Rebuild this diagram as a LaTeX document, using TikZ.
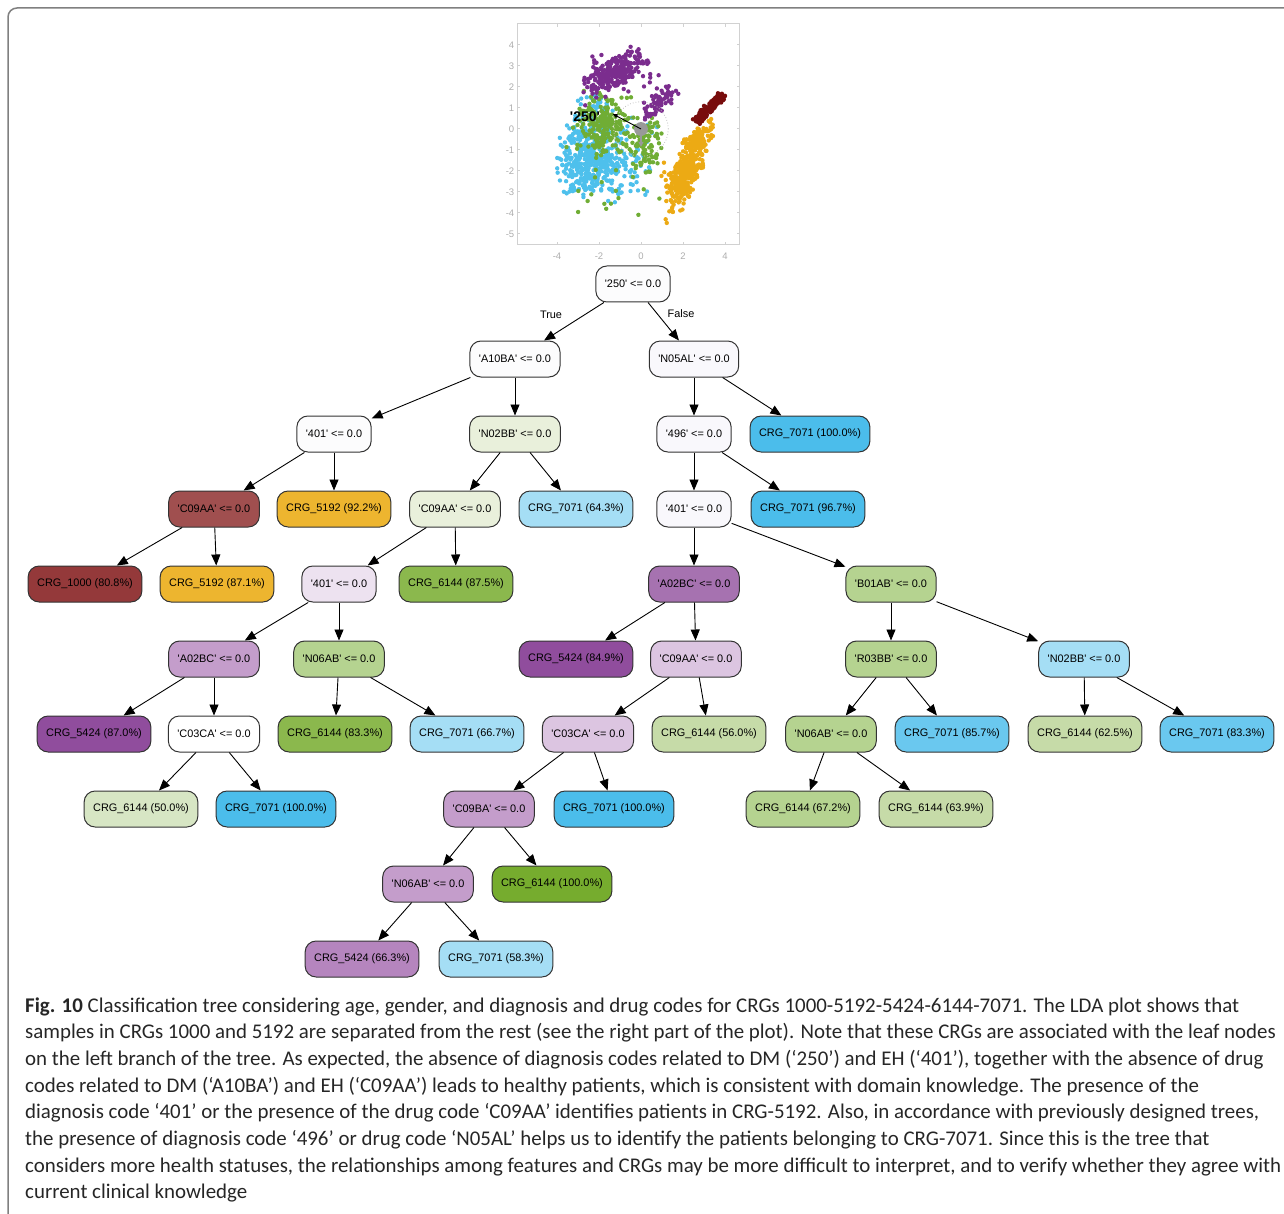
\documentclass[tikz,border=0pt]{standalone}
\usepackage{fontspec}
\setmainfont{Liberation Sans}
\newfontfamily\captionfont{Carlito}
\usetikzlibrary{arrows.meta}

%Farben Knoten
\definecolor{weiss}{HTML}{FCFCFD}
\definecolor{lavweiss}{HTML}{F9F8FC}
\definecolor{gruenblass}{HTML}{E9F0DB}
\definecolor{gruenblass2}{HTML}{D7E6C4}
\definecolor{gruenmittel}{HTML}{C6DBA8}
\definecolor{gruenhell}{HTML}{B5D390}
\definecolor{gruen}{HTML}{8BB84D}
\definecolor{gruendunkel}{HTML}{76AC2E}
\definecolor{blau}{HTML}{4BBDEB}
\definecolor{blaumittel}{HTML}{6AC8EF}
\definecolor{blauhell}{HTML}{A5DEF5}
\definecolor{rot}{HTML}{A04F4F}
\definecolor{rotdunkel}{HTML}{94393A}
\definecolor{ocker}{HTML}{EDB52F}
\definecolor{lila}{HTML}{A672B0}
\definecolor{lilahell}{HTML}{C49DCB}
\definecolor{lilamittel}{HTML}{B585BE}
\definecolor{lilazart}{HTML}{DCC5E1}
\definecolor{lilablass}{HTML}{EDE2F0}
\definecolor{violett}{HTML}{904D9D}
%Farben Punkte
\definecolor{pblau}{HTML}{4EC0EC}
\definecolor{pgruen}{HTML}{70AD35}
\definecolor{plila}{HTML}{7B2D8E}
\definecolor{pocker}{HTML}{ECAA14}
\definecolor{prot}{HTML}{780C0C}

\newcommand{\kode}[1]{\textquotesingle#1\textquotesingle}

\tikzset{
  knoten/.style={draw=black!80, line width=1pt, rounded corners=11pt,
    minimum height=36pt, inner xsep=9pt, inner ysep=0pt,
    font=\fontsize{10.9}{13}\selectfont},
  kante/.style={draw=black, line width=0.9pt, -{Triangle[length=11pt,width=9pt]}},
  achse/.style={draw=black!18, line width=1pt},
  skala/.style={text=black!32, font=\fontsize{9.5}{10}\selectfont, inner sep=1pt},
  zeile/.style={anchor=base west, inner sep=0pt, font=\captionfont\fontsize{20.9}{26}\selectfont, text=black!85},
}

\begin{document}
\begin{tikzpicture}[x=1pt,y=-1pt]
\useasboundingbox (0,0) rectangle (1284,1214);
\clip (0,0) rectangle (1284,1214);
%Rahmen
	\draw[draw=black!50, line width=1.5pt, rounded corners=9pt] (8,8) rectangle (1310,1240);
%LDA-Plot
\begin{scope}[shift={(641,129)}, x=21pt, y=21pt]
	\draw[achse] (-5.9,-5.52) rectangle (4.71,5.0);
	\foreach \y [count=\k] in {-5,...,4}{
		\draw[achse] (-5.9,\y) -- (-5.78,\y);
		\draw[achse] (4.71,\y) -- (4.59,\y);
		\node[skala, anchor=east] (ylab\k) at (-5.98,\y) {\y};}
	\foreach \x [count=\k] in {-4,-2,0,2,4}{
		\draw[achse] (\x,-5.52) -- (\x,-5.4);
		\draw[achse] (\x,5.0) -- (\x,4.88);
		\node[skala] (xlab\k) at (\x,-6.05) {\x};}
	\pgfmathsetseed{42}
%blau
	\foreach \i in {1,...,330}{
		\fill[pblau] ({-2.6+0.75*(rand+rand)},{-1.5+0.9*(rand+rand)}) circle (2.2pt);}
	\foreach \i in {1,...,180}{
		\fill[pblau] ({-1.4+1.2*(rand+rand)},{-1.6+1.1*(rand+rand)}) circle (2.2pt);}
	\foreach \i in {1,...,70}{
		\fill[pblau] ({-2.3+0.6*(rand+rand)},{0.7+0.6*(rand+rand)}) circle (2.2pt);}
%gruen
	\foreach \i in {1,...,240}{
		\fill[pgruen] ({-1.8+0.8*(rand+rand)},{0.2+0.85*(rand+rand)}) circle (2.2pt);}
	\foreach \i in {1,...,100}{
		\fill[pgruen] ({0.3+0.4*(rand+rand)},{-0.7+0.7*(rand+rand)}) circle (2.2pt);}
	\foreach \i in {1,...,25}{
		\fill[pgruen] ({-1+1.5*(rand+rand)},{-2.5+1*(rand+rand)}) circle (2.2pt);}
%lila
	\foreach \i in {1,...,230}{
		\pgfmathsetmacro{\pa}{0.85*(rand+rand)}
		\pgfmathsetmacro{\pb}{0.42*(rand+rand)}
		\fill[plila] ({-1.2+0.85*\pa-0.5*\pb},{2.75+0.5*\pa+0.85*\pb}) circle (2.2pt);}
	\foreach \i in {1,...,50}{
		\fill[plila] ({-0.9+1.1*(rand+rand)},{2.5+0.7*(rand+rand)}) circle (2.2pt);}
	\foreach \i in {1,...,70}{
		\pgfmathsetmacro{\pa}{0.6*(rand+rand)}
		\pgfmathsetmacro{\pb}{0.25*(rand+rand)}
		\fill[plila] ({0.9+0.8*\pa-0.6*\pb},{1.3+0.6*\pa+0.8*\pb}) circle (2.2pt);}
%ocker
	\foreach \i in {1,...,340}{
		\pgfmathsetmacro{\pa}{0.85*(rand+rand)}
		\pgfmathsetmacro{\pb}{0.32*(rand+rand)}
		\fill[pocker] ({2.2+0.4*\pa-0.92*\pb},{-2.0+0.92*\pa+0.4*\pb}) circle (2.2pt);}
	\foreach \i in {1,...,110}{
		\pgfmathsetmacro{\pa}{0.6*(rand+rand)}
		\pgfmathsetmacro{\pb}{0.25*(rand+rand)}
		\fill[pocker] ({2.7+0.75*\pa-0.66*\pb},{-0.5+0.66*\pa+0.75*\pb}) circle (2.2pt);}
	\foreach \i in {1,...,40}{
		\fill[pocker] ({1.6+0.5*(rand+rand)},{-3.0+0.9*(rand+rand)}) circle (2.2pt);}
%rot
	\foreach \i in {1,...,110}{
		\pgfmathsetmacro{\pa}{0.95*rand}
		\pgfmathsetmacro{\pb}{0.13*(rand+rand)}
		\fill[prot] ({3.25+0.72*\pa-0.69*\pb},{1.0+0.69*\pa+0.72*\pb}) circle (2.2pt);}
%Ladungspfeil
	\draw[black!25, dotted, line width=0.8pt] (0,0) circle (1.3);
	\fill[black!40] (0,0) circle (0.33);
	\draw[black!40, line width=2pt, -{Triangle[length=5pt,width=5pt]}] (0,0) -- (0,-0.85);
	\draw[black, line width=0.9pt, -{Triangle[length=5pt,width=4pt]}] (0,0) -- (-1.35,0.72);
	\node[font=\bfseries\fontsize{14}{16}\selectfont, inner sep=0pt] (l250) at (-2.67,0.57) {\kode{250}};
\end{scope}
%Baum
	\node[knoten, fill=weiss] (wurzel) at (633,284) {\kode{250} <= 0.0};
	\node[font=\fontsize{10.9}{13}\selectfont] (wahr) at (551,315) {True};
	\node[font=\fontsize{10.9}{13}\selectfont] (falsch) at (681,314) {False};
%Ebene 1
	\node[knoten, fill=weiss] (a10ba) at (515,359) {\kode{A10BA} <= 0.0};
	\node[knoten, fill=lavweiss] (n05al) at (694,359) {\kode{N05AL} <= 0.0};
%Ebene 2
	\node[knoten, fill=weiss] (k401a) at (334,434) {\kode{401} <= 0.0};
	\node[knoten, fill=gruenblass] (n02bba) at (515,434) {\kode{N02BB} <= 0.0};
	\node[knoten, fill=lavweiss] (k496) at (694,434) {\kode{496} <= 0.0};
	\node[knoten, fill=blau] (b7071a) at (810,434) {CRG\_7071 (100.0\%)};
%Ebene 3
	\node[knoten, fill=rot] (c09aaa) at (214,509) {\kode{C09AA} <= 0.0};
	\node[knoten, fill=ocker] (o5192a) at (334,509) {CRG\_5192 (92.2\%)};
	\node[knoten, fill=gruenblass] (c09aab) at (455,509) {\kode{C09AA} <= 0.0};
	\node[knoten, fill=blauhell] (b7071b) at (576,509) {CRG\_7071 (64.3\%)};
	\node[knoten, fill=lavweiss] (k401b) at (694,509) {\kode{401} <= 0.0};
	\node[knoten, fill=blau] (b7071c) at (808,509) {CRG\_7071 (96.7\%)};
%Ebene 4
	\node[knoten, fill=rotdunkel] (r1000) at (85,584) {CRG\_1000 (80.8\%)};
	\node[knoten, fill=ocker] (o5192b) at (217,584) {CRG\_5192 (87.1\%)};
	\node[knoten, fill=lilablass] (k401c) at (339,584) {\kode{401} <= 0.0};
	\node[knoten, fill=gruen] (g6144a) at (456,584) {CRG\_6144 (87.5\%)};
	\node[knoten, fill=lila] (a02bca) at (694,584) {\kode{A02BC} <= 0.0};
	\node[knoten, fill=gruenhell] (b01ab) at (891,584) {\kode{B01AB} <= 0.0};
%Ebene 5
	\node[knoten, fill=lilahell] (a02bcb) at (214,659) {\kode{A02BC} <= 0.0};
	\node[knoten, fill=gruenhell] (n06aba) at (339,659) {\kode{N06AB} <= 0.0};
	\node[knoten, fill=violett] (v5424a) at (576,659) {CRG\_5424 (84.9\%)};
	\node[knoten, fill=lilazart] (c09aac) at (696,659) {\kode{C09AA} <= 0.0};
	\node[knoten, fill=gruenhell] (r03bb) at (891,659) {\kode{R03BB} <= 0.0};
	\node[knoten, fill=blauhell] (n02bbb) at (1084,659) {\kode{N02BB} <= 0.0};
%Ebene 6
	\node[knoten, fill=violett] (v5424b) at (94,734) {CRG\_5424 (87.0\%)};
	\node[knoten, fill=white] (c03caa) at (214,734) {\kode{C03CA} <= 0.0};
	\node[knoten, fill=gruen] (g6144b) at (335,734) {CRG\_6144 (83.3\%)};
	\node[knoten, fill=blauhell] (b7071d) at (467,734) {CRG\_7071 (66.7\%)};
	\node[knoten, fill=lilazart] (c03cab) at (588,734) {\kode{C03CA} <= 0.0};
	\node[knoten, fill=gruenmittel] (g6144c) at (709,734) {CRG\_6144 (56.0\%)};
	\node[knoten, fill=gruenhell] (n06abb) at (831,734) {\kode{N06AB} <= 0.0};
	\node[knoten, fill=blaumittel] (b7071e) at (952,734) {CRG\_7071 (85.7\%)};
	\node[knoten, fill=gruenmittel] (g6144d) at (1085,734) {CRG\_6144 (62.5\%)};
	\node[knoten, fill=blaumittel] (b7071f) at (1217,734) {CRG\_7071 (83.3\%)};
%Ebene 7
	\node[knoten, fill=gruenblass2] (g6144e) at (141,809) {CRG\_6144 (50.0\%)};
	\node[knoten, fill=blau] (b7071g) at (276,809) {CRG\_7071 (100.0\%)};
	\node[knoten, fill=lilahell] (c09ba) at (489,809) {\kode{C09BA} <= 0.0};
	\node[knoten, fill=blau] (b7071h) at (614,809) {CRG\_7071 (100.0\%)};
	\node[knoten, fill=gruenhell] (g6144f) at (803,809) {CRG\_6144 (67.2\%)};
	\node[knoten, fill=gruenmittel] (g6144g) at (936,809) {CRG\_6144 (63.9\%)};
%Ebene 8
	\node[knoten, fill=lilahell] (n06abc) at (428,884) {\kode{N06AB} <= 0.0};
	\node[knoten, fill=gruendunkel] (g6144h) at (552,884) {CRG\_6144 (100.0\%)};
%Ebene 9
	\node[knoten, fill=lilamittel] (v5424c) at (362,959) {CRG\_5424 (66.3\%)};
	\node[knoten, fill=blauhell] (b7071i) at (496,959) {CRG\_7071 (58.3\%)};
%Kanten
	\foreach \a/\b in {wurzel/a10ba, wurzel/n05al, a10ba/k401a, a10ba/n02bba,
		n05al/k496, n05al/b7071a, k401a/c09aaa, k401a/o5192a, n02bba/c09aab,
		n02bba/b7071b, k496/k401b, k496/b7071c, c09aaa/r1000, c09aaa/o5192b,
		c09aab/k401c, c09aab/g6144a, k401b/a02bca, k401b/b01ab, k401c/a02bcb,
		k401c/n06aba, a02bca/v5424a, a02bca/c09aac, b01ab/r03bb, b01ab/n02bbb,
		a02bcb/v5424b, a02bcb/c03caa, n06aba/g6144b, n06aba/b7071d,
		c09aac/c03cab, c09aac/g6144c, r03bb/n06abb, r03bb/b7071e,
		n02bbb/g6144d, n02bbb/b7071f, c03caa/g6144e, c03caa/b7071g,
		c03cab/c09ba, c03cab/b7071h, n06abb/g6144f, n06abb/g6144g,
		c09ba/n06abc, c09ba/g6144h, n06abc/v5424c, n06abc/b7071i}
		\draw[kante] (\a) -- (\b);
%Bildunterschrift
	\foreach \z [count=\n] in {
		{\textbf{Fig. 10} Classification tree considering age, gender, and diagnosis and drug codes for CRGs 1000-5192-5424-6144-7071. The LDA plot shows that},
		{samples in CRGs 1000 and 5192 are separated from the rest (see the right part of the plot). Note that these CRGs are associated with the leaf nodes},
		{on the left branch of the tree. As expected, the absence of diagnosis codes related to DM (‘250’) and EH (‘401’), together with the absence of drug},
		{codes related to DM (‘A10BA’) and EH (‘C09AA’) leads to healthy patients, which is consistent with domain knowledge. The presence of the},
		{diagnosis code ‘401’ or the presence of the drug code ‘C09AA’ identifies patients in CRG-5192. Also, in accordance with previously designed trees,},
		{the presence of diagnosis code ‘496’ or drug code ‘N05AL’ helps us to identify the patients belonging to CRG-7071. Since this is the tree that},
		{considers more health statuses, the relationships among features and CRGs may be more difficult to interpret, and to verify whether they agree with},
		{current clinical knowledge}}
		\node[zeile] (zeile\n) at (25,{1012+26.7*(\n-1)}) {\z};
\end{tikzpicture}
\end{document}
